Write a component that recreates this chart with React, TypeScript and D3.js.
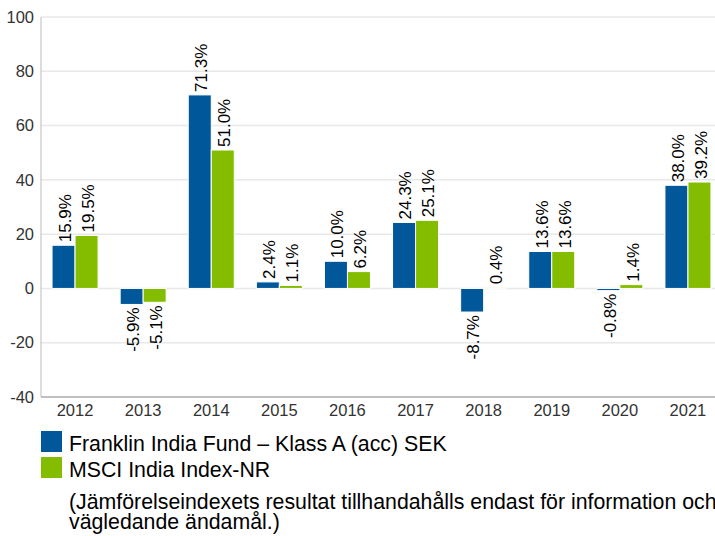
import React from "react";
import * as d3 from "d3";

const years = ["2012", "2013", "2014", "2015", "2016", "2017", "2018", "2019", "2020", "2021"];
const fundValues = [15.9, -5.9, 71.3, 2.4, 10.0, 24.3, -8.7, 13.6, -0.8, 38.0];
const indexValues = [19.5, -5.1, 51.0, 1.1, 6.2, 25.1, 0.4, 13.6, 1.4, 39.2];
const yTicks = [-40, -20, 0, 20, 40, 60, 80, 100];
const seriesNames = ["Franklin India Fund – Klass A (acc) SEK", "MSCI India Index-NR"];
const seriesColors = ["#00579a", "#84bd00"];
const footnote = [
  "(Jämförelseindexets resultat tillhandahålls endast för information och",
  "vägledande ändamål.)",
];

export default function App() {
  const W = 715;
  const H = 536;
  const left = 41;
  const top = 17;
  const bottom = 397;
  const bandW = 68.1;
  const right = left + bandW * years.length;
  const font = "'Liberation Sans', Arial, sans-serif";

  const x = d3.scaleBand<string>().domain(years).range([left, right]).paddingInner(0).paddingOuter(0);
  const y = d3.scaleLinear().domain([-40, 100]).range([bottom, top]);
  const barW = 23;
  const series = [fundValues, indexValues];

  return (
    <svg width={W} height={H} style={{ position: "absolute", left: 0, top: 0, fontFamily: font }}>
      <rect x={0} y={0} width={W} height={H} fill="#fff" />
      {yTicks.map((t) => (
        <g key={t}>
          {t !== -40 && (
            <line x1={left} x2={right} y1={y(t)} y2={y(t)} stroke="#e8e8e8" strokeWidth={1.5} />
          )}
          <text x={34} y={y(t)} dy="0.35em" textAnchor="end" fontSize={16.5} fill="#333">
            {t}
          </text>
        </g>
      ))}
      <line x1={left} x2={left} y1={top} y2={bottom} stroke="#bbb" strokeWidth={1} />
      <line x1={left} x2={right} y1={bottom} y2={bottom} stroke="#aaa" strokeWidth={1.5} />
      {years.map((yr, i) => {
        const cx = (x(yr) as number) + x.bandwidth() / 2;
        return (
          <g key={yr}>
            {series.map((vals, s) => {
              const v = vals[i];
              const bx = cx - barW + s * barW;
              const y0 = y(0);
              const y1 = y(v);
              const bx0 = bx + barW / 2;
              const labelY = v >= 0 ? Math.min(y0, y1) - 3 : Math.max(y0, y1) + 3;
              return (
                <g key={s}>
                  <rect
                    x={bx}
                    y={Math.min(y0, y1)}
                    width={barW}
                    height={Math.abs(y1 - y0)}
                    fill={seriesColors[s]}
                    stroke="#fff"
                    strokeWidth={1}
                  />
                  <text
                    transform={`translate(${bx0},${labelY}) rotate(-90)`}
                    textAnchor={v >= 0 ? "start" : "end"}
                    dy="0.43em"
                    fontSize={17}
                    fill="#000"
                  >
                    {v.toFixed(1)}%
                  </text>
                </g>
              );
            })}
            <text x={cx} y={416} textAnchor="middle" fontSize={16.5} fill="#333">
              {yr}
            </text>
          </g>
        );
      })}
      {seriesNames.map((n, i) => (
        <g key={n}>
          <rect x={41} y={431 + i * 26} width={21} height={21} fill={seriesColors[i]} />
          <text x={69} y={451 + i * 26} fontSize={21.3} fill="#000">
            {n}
          </text>
        </g>
      ))}
      {footnote.map((l, i) => (
        <text key={i} x={69} y={509 + i * 20} fontSize={21.3} fill="#000">
          {l}
        </text>
      ))}
    </svg>
  );
}
